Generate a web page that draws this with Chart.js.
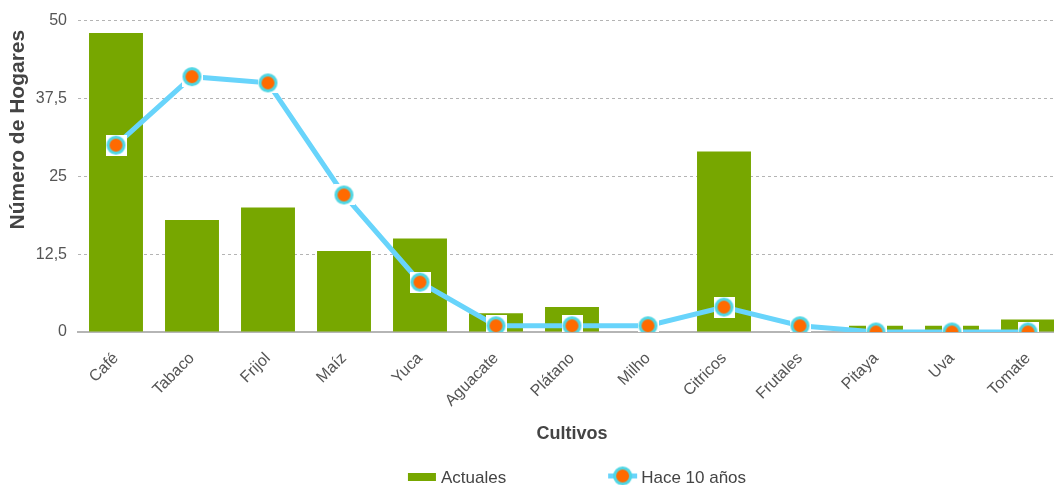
<!DOCTYPE html>
<html>
<head>
<meta charset="utf-8">
<script src="https://cdn.jsdelivr.net/npm/chart.js@4"></script>
<style>
  html, body { margin: 0; padding: 0; background: #fff; overflow: hidden; }
  canvas { display: block; }
</style>
</head>
<body>
<canvas id="cultivos" width="1054" height="485"></canvas>
<script>
const categories = ['Café', 'Tabaco', 'Frijol', 'Maíz', 'Yuca', 'Aguacate', 'Plátano', 'Milho', 'Citricos', 'Frutales', 'Pitaya', 'Uva', 'Tomate'];
const actuales = [48, 18, 20, 13, 15, 3, 4, 0, 29, 0, 1, 1, 2];
const hace10 = [30, 41, 40, 22, 8, 1, 1, 1, 4, 1, 0, 0, 0];
const yTicks = [0, 12.5, 25, 37.5, 50];
const yTickLabels = ['0', '12,5', '25', '37,5', '50'];
const yTitle = 'Número de Hogares';

const FONT = '"Liberation Sans", Arial, sans-serif';
const GREEN = '#77a700';
const SKY = '#68d4fb';
const ORANGE = '#ff6a00';
const RING = '#4fd6e4';

// orange dot with cyan ring, optionally sitting on a white square
function makeMarker(withBackground) {
  const c = document.createElement('canvas');
  c.width = 21; c.height = 21;
  const g = c.getContext('2d');
  if (withBackground) { g.fillStyle = '#fff'; g.fillRect(0, 0, 21, 21); }
  g.beginPath();
  g.arc(10.5, 10.5, 8, 0, Math.PI * 2);
  g.fillStyle = ORANGE;
  g.fill();
  g.lineWidth = 3;
  g.strokeStyle = RING;
  g.stroke();
  return c;
}
const marker = makeMarker(true);
const legendMarker = makeMarker(false);

// the plot runs a little past the right edge of the canvas,
// so the last category is cut off
const overhang = {
  id: 'overhang',
  afterLayout(chart) {
    const x = chart.scales.x;
    x.right = chart.width + 12;
    x.width = x.right - x.left;
    x.configure();
    chart.chartArea.right = x.right;
    chart.chartArea.width = x.right - chart.chartArea.left;
  }
};

// y axis title, sitting a bit above the middle of the axis
const yAxisTitle = {
  id: 'yAxisTitle',
  afterDraw(chart) {
    const ctx = chart.ctx;
    ctx.save();
    ctx.translate(18, chart.chartArea.top + 109);
    ctx.rotate(-Math.PI / 2);
    ctx.font = 'bold 21px ' + FONT;
    ctx.fillStyle = '#444';
    ctx.textAlign = 'center';
    ctx.textBaseline = 'middle';
    ctx.fillText(yTitle, 0, 0);
    ctx.restore();
  }
};

// legend row under the x axis title
const bottomLegend = {
  id: 'bottomLegend',
  afterDraw(chart) {
    const ctx = chart.ctx;
    const area = chart.chartArea;
    const sets = chart.data.datasets;
    ctx.save();
    ctx.font = '17px ' + FONT;
    ctx.textBaseline = 'middle';
    const iconW = 29, textGap = 4, itemGap = 102;
    const widths = sets.map(ds => iconW + textGap + ctx.measureText(ds.label).width);
    const total = widths.reduce((a, b) => a + b, 0) + itemGap * (sets.length - 1);
    let x = (area.left + area.right) / 2 + 5 - total / 2;
    const y = chart.height - 7;
    sets.forEach((ds, i) => {
      if (ds.type === 'bar') {
        ctx.fillStyle = ds.backgroundColor;
        ctx.fillRect(x, y - 5, 28, 8);
      } else {
        ctx.strokeStyle = ds.borderColor;
        ctx.lineWidth = 5;
        ctx.beginPath();
        ctx.moveTo(x, y - 2);
        ctx.lineTo(x + iconW, y - 2);
        ctx.stroke();
        ctx.drawImage(legendMarker, x + iconW / 2 - 10.5, y - 2 - 10.5);
      }
      ctx.fillStyle = '#444';
      ctx.fillText(ds.label, x + iconW + textGap, y);
      x += widths[i] + itemGap;
    });
    ctx.restore();
  }
};

new Chart('cultivos', {
  data: {
    labels: categories,
    datasets: [{
      type: 'bar',
      label: 'Actuales',
      data: actuales,
      backgroundColor: GREEN,
      barPercentage: 0.71,
      categoryPercentage: 1,
      order: 2
    }, {
      type: 'line',
      label: 'Hace 10 años',
      data: hace10,
      borderColor: SKY,
      borderWidth: 5,
      tension: 0,
      pointStyle: marker,
      pointRadius: 10,
      pointHoverRadius: 10,
      order: 1
    }]
  },
  options: {
    responsive: false,
    animation: false,
    layout: { padding: { top: 12, right: 0, bottom: 36, left: 0 } },
    plugins: {
      legend: { display: false },
      tooltip: { enabled: false }
    },
    scales: {
      x: {
        grid: { display: false },
        border: { color: '#b5b5b5', width: 2 },
        ticks: {
          color: '#555',
          padding: 9,
          font: { family: FONT, size: 16 },
          maxRotation: 45,
          minRotation: 45,
          autoSkip: false
        },
        title: {
          display: true,
          text: 'Cultivos',
          color: '#444',
          font: { family: FONT, size: 18, weight: 'bold' }
        },
        afterFit(scale) { scale.height = 117; }
      },
      y: {
        min: 0,
        max: 50,
        afterBuildTicks(scale) { scale.ticks = yTicks.map(v => ({ value: v })); },
        grid: { color: '#b4b4b4', drawTicks: false },
        border: { display: false, dash: [3, 3] },
        ticks: {
          color: '#555',
          padding: 11,
          font: { family: FONT, size: 16 },
          callback: (v, i) => yTickLabels[i]
        },
        afterFit(scale) { scale.width = 78; }
      }
    }
  },
  plugins: [overhang, yAxisTitle, bottomLegend]
});
</script>
</body>
</html>
